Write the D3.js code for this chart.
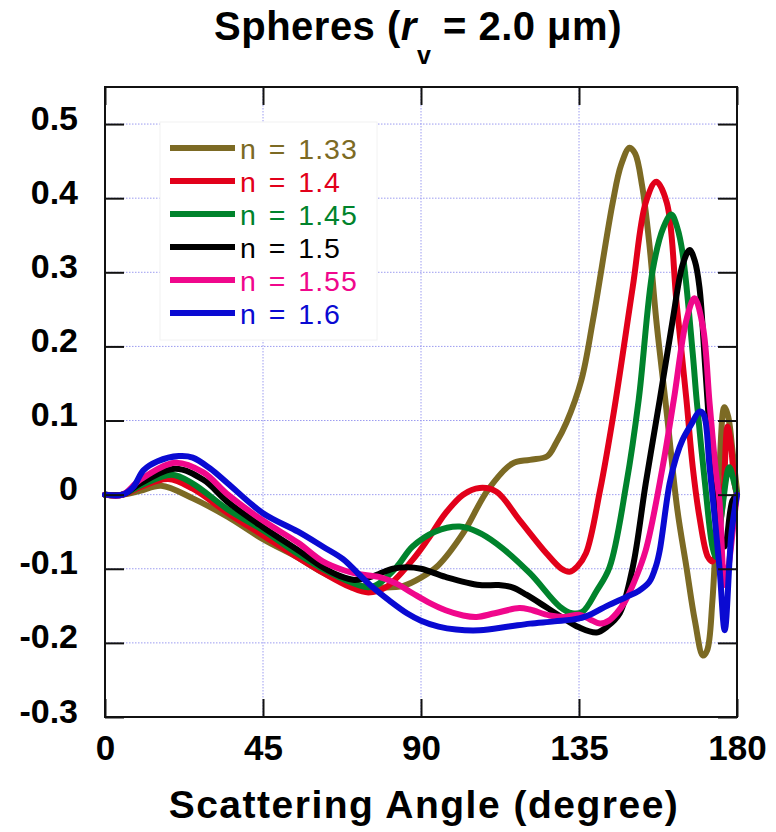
<!DOCTYPE html>
<html>
<head>
<meta charset="utf-8">
<script src="https://cdn.jsdelivr.net/npm/d3@7"></script>
<style>
  body { margin: 0; background: #fff; }
  text { font-family: "Liberation Sans", Arial, Helvetica, sans-serif; }
</style>
</head>
<body>
<div id="chart"></div>
<script>
// data: [scattering angle (deg), value]
var n133 = [[0,0],[5,0],[10,0.005],[16,0.012],[25,-0.005],[35,-0.03],[45,-0.06],[55,-0.085],[62,-0.105],[70,-0.12],[78,-0.125],[85,-0.123],[90,-0.112],[95,-0.095],[102,-0.052],[109,0.006],[116,0.042],[121,0.047],[126,0.052],[128.5,0.07],[131.4,0.097],[135.7,0.155],[139,0.236],[144.6,0.394],[147,0.445],[149.4,0.468],[151,0.46],[153,0.416],[155,0.34],[157,0.236],[160,0.11],[163,-0.02],[165.6,-0.098],[168,-0.17],[170.3,-0.217],[171.5,-0.21],[173,-0.143],[175,0.037],[176.4,0.118],[177.5,0.105],[178.7,0.06],[180,0.005]];
var n140 = [[0,0],[5,0],[10,0.01],[18,0.021],[25,0.008],[35,-0.025],[45,-0.055],[55,-0.085],[62,-0.105],[70,-0.125],[75,-0.132],[80,-0.125],[87.6,-0.088],[92,-0.06],[97,-0.025],[102,0],[106.7,0.009],[111.5,0.004],[118,-0.034],[125.7,-0.079],[130,-0.1],[132.3,-0.104],[134.5,-0.097],[137,-0.079],[141,0.006],[145,0.114],[150.3,0.28],[154,0.394],[157,0.422],[160,0.394],[162.8,0.258],[165.6,0.128],[167.4,0.037],[169.3,-0.03],[171.7,-0.084],[173,-0.09],[174.5,-0.06],[176,-0.008],[177.3,0.092],[178.2,0.07],[179.3,0.015],[180,0]];
var n145 = [[0,0],[5,0],[10,0.012],[19,0.027],[25,0.015],[35,-0.02],[45,-0.048],[55,-0.08],[62,-0.1],[70,-0.118],[75,-0.125],[78,-0.12],[83,-0.098],[87.6,-0.07],[94,-0.05],[101,-0.043],[106,-0.05],[111.5,-0.066],[121,-0.106],[129.5,-0.151],[133,-0.16],[136,-0.158],[140,-0.13],[143.7,-0.098],[148.5,0.015],[152,0.128],[156,0.303],[159,0.36],[161.3,0.378],[163,0.36],[164.5,0.326],[167.4,0.19],[168.5,0.128],[171,0.01],[173,-0.07],[174,-0.084],[175.5,-0.03],[177.8,0.037],[179,0.02],[180,0]];
var n150 = [[0,0],[5,0],[10,0.015],[20,0.035],[28,0.02],[35,-0.01],[45,-0.044],[55,-0.075],[62,-0.098],[67,-0.11],[71,-0.115],[75,-0.112],[78,-0.107],[82,-0.1],[86,-0.098],[90,-0.1],[97,-0.111],[106.7,-0.122],[112,-0.122],[116,-0.125],[120,-0.135],[125.7,-0.152],[130,-0.165],[135,-0.179],[140,-0.186],[143,-0.178],[146.6,-0.16],[150.3,-0.098],[154,0.015],[158,0.128],[161.7,0.236],[164.5,0.31],[166.5,0.33],[168,0.315],[169.3,0.28],[171,0.168],[173,0.037],[175,-0.05],[176.5,-0.07],[178.7,-0.008],[180,0]];
var n155 = [[0,0],[5,0],[10,0.02],[20,0.043],[28,0.03],[35,0],[45,-0.035],[55,-0.065],[62,-0.09],[68,-0.102],[72,-0.107],[78,-0.111],[83,-0.12],[87.6,-0.133],[92,-0.145],[97,-0.156],[102,-0.163],[105.8,-0.165],[111,-0.16],[118,-0.153],[121,-0.155],[126.6,-0.163],[131,-0.165],[135,-0.162],[138,-0.168],[141,-0.174],[143.5,-0.17],[145.7,-0.16],[148,-0.145],[150.5,-0.12],[154,-0.075],[158.8,0.037],[162,0.128],[165.6,0.236],[167.9,0.265],[170.3,0.226],[172.2,0.123],[174,0.03],[175,-0.008],[176.5,-0.122],[177.5,-0.1],[179,-0.04],[180,0]];
var n160 = [[0,0],[5,0],[8,0.01],[11,0.033],[15,0.045],[21,0.052],[25,0.05],[30,0.035],[35,0.015],[45,-0.025],[55,-0.05],[62,-0.07],[67.8,-0.087],[72,-0.106],[76,-0.124],[81,-0.143],[86,-0.16],[90,-0.17],[95,-0.178],[100,-0.182],[106.7,-0.183],[115,-0.178],[121,-0.174],[128,-0.171],[135,-0.167],[139,-0.16],[143,-0.15],[148.5,-0.138],[152,-0.13],[155,-0.118],[157,-0.095],[158,-0.075],[160.8,0.015],[162.7,0.051],[164.5,0.074],[167,0.095],[169.3,0.112],[170.5,0.108],[172.2,0.037],[175,-0.098],[176.5,-0.183],[178.4,-0.053],[180,0]];

var seriesData = [n133, n140, n145, n150, n155, n160];
var seriesNames = ["n = 1.33", "n = 1.4", "n = 1.45", "n = 1.5", "n = 1.55", "n = 1.6"];
var seriesColors = ["#7c6a24", "#e2001a", "#00832c", "#000000", "#f0078c", "#0a0ad2"];

var xTicks = [0, 45, 90, 135, 180];
var yTicks = [-0.3, -0.2, -0.1, 0, 0.1, 0.2, 0.3, 0.4, 0.5];
var yTickLabels = ["-0.3", "-0.2", "-0.1", "0", "0.1", "0.2", "0.3", "0.4", "0.5"];

var svgWidth = 776;
var svgHeight = 832;

var margin = {
  top: 87,
  right: 39,
  bottom: 115,
  left: 105
};

var width = svgWidth - margin.left - margin.right;
var height = svgHeight - margin.top - margin.bottom;

var svg = d3
  .select("#chart")
  .append("svg")
  .attr("width", svgWidth)
  .attr("height", svgHeight);

var chartGroup = svg.append("g")
  .attr("transform", `translate(${margin.left}, ${margin.top})`);

var xScale = d3.scaleLinear()
  .domain([0, 180])
  .range([0, width]);

var yScale = d3.scaleLinear()
  .domain([-0.3, 0.55])
  .range([height, 0]);

// dotted grid
var gridGroup = chartGroup.append("g");
gridGroup.selectAll(".vgrid")
  .data(xTicks.slice(1, -1))
  .enter()
  .append("line")
  .attr("x1", d => xScale(d))
  .attr("x2", d => xScale(d))
  .attr("y1", 0)
  .attr("y2", height)
  .attr("stroke", "#9c9cf0")
  .attr("stroke-width", 1)
  .attr("stroke-dasharray", "1.5,1.5");

gridGroup.selectAll(".hgrid")
  .data(yTicks.slice(1))
  .enter()
  .append("line")
  .attr("x1", 0)
  .attr("x2", width)
  .attr("y1", d => yScale(d))
  .attr("y2", d => yScale(d))
  .attr("stroke", "#9c9cf0")
  .attr("stroke-width", 1)
  .attr("stroke-dasharray", "1.5,1.5");

// legend box hides the grid behind it
chartGroup.append("rect")
  .attr("x", 55)
  .attr("y", 35)
  .attr("width", 217)
  .attr("height", 218)
  .attr("fill", "#fff")
  .attr("stroke", "#f2f2f2")
  .attr("stroke-width", 1);

// curves
var line = d3.line()
  .x(d => xScale(d[0]))
  .y(d => yScale(d[1]))
  .curve(d3.curveCatmullRom.alpha(0.5));

chartGroup.selectAll(".curve")
  .data(seriesData)
  .enter()
  .append("path")
  .attr("class", "curve")
  .attr("d", d => line(d))
  .attr("fill", "none")
  .attr("stroke", (d, i) => seriesColors[i])
  .attr("stroke-width", 6)
  .attr("stroke-linejoin", "round")
  .attr("stroke-linecap", "round");

// axes: ticks pointing inward on all four sides
var bottomAxis = d3.axisBottom(xScale)
  .tickValues(xTicks)
  .tickSizeInner(-18)
  .tickSizeOuter(0)
  .tickPadding(18);

var topAxis = d3.axisTop(xScale)
  .tickValues(xTicks)
  .tickSizeInner(-18)
  .tickSizeOuter(0)
  .tickFormat("");

var leftAxis = d3.axisLeft(yScale)
  .tickValues(yTicks)
  .tickSizeInner(-19)
  .tickSizeOuter(0)
  .tickPadding(27)
  .tickFormat((d, i) => yTickLabels[i]);

var rightAxis = d3.axisRight(yScale)
  .tickValues(yTicks)
  .tickSizeInner(-19)
  .tickSizeOuter(0)
  .tickFormat("");

var xAxis = chartGroup.append("g")
  .attr("transform", `translate(0, ${height})`)
  .call(bottomAxis);

chartGroup.append("g").call(topAxis);

var yAxis = chartGroup.append("g").call(leftAxis);

chartGroup.append("g")
  .attr("transform", `translate(${width}, 0)`)
  .call(rightAxis);

chartGroup.selectAll(".domain").remove();
chartGroup.selectAll(".tick line")
  .attr("stroke", "#111")
  .attr("stroke-width", 2);

xAxis.selectAll("text")
  .attr("font-size", "35px")
  .attr("font-weight", "bold")
  .attr("fill", "#000");

yAxis.selectAll("text")
  .attr("font-size", "34px")
  .attr("font-weight", "bold")
  .attr("fill", "#000")
  .attr("dy", "0.15em");

// frame
chartGroup.append("rect")
  .attr("x", 0)
  .attr("y", 0)
  .attr("width", width)
  .attr("height", height)
  .attr("fill", "none")
  .attr("stroke", "#111")
  .attr("stroke-width", 2);

// legend
var legend = chartGroup.selectAll(".legend")
  .data(seriesNames)
  .enter()
  .append("g")
  .attr("class", "legend")
  .attr("transform", (d, i) => `translate(65, ${61 + i * 33})`);

legend.append("line")
  .attr("x1", 0)
  .attr("x2", 65)
  .attr("y1", 0)
  .attr("y2", 0)
  .attr("stroke", (d, i) => seriesColors[i])
  .attr("stroke-width", 6);

legend.append("text")
  .attr("x", 70)
  .attr("y", 11)
  .attr("font-size", "28.5px")
  .attr("letter-spacing", "1px")
  .attr("word-spacing", "3px")
  .attr("fill", (d, i) => seriesColors[i])
  .text(d => d);

// title
var title = svg.append("text")
  .attr("x", 418)
  .attr("y", 40)
  .attr("text-anchor", "middle")
  .attr("font-size", "40px")
  .attr("font-weight", "bold")
  .attr("letter-spacing", "0.5px");

title.append("tspan").text("Spheres (");
title.append("tspan").attr("font-style", "italic").text("r");
title.append("tspan").attr("font-size", "25px").attr("dy", 24).text("v");
title.append("tspan").attr("dy", -24).text(" = 2.0 \u03bcm)");

// x axis label
svg.append("text")
  .attr("x", 424)
  .attr("y", 818)
  .attr("text-anchor", "middle")
  .attr("font-size", "39px")
  .attr("font-weight", "bold")
  .attr("letter-spacing", "1.5px")
  .text("Scattering Angle (degree)");
</script>
</body>
</html>
